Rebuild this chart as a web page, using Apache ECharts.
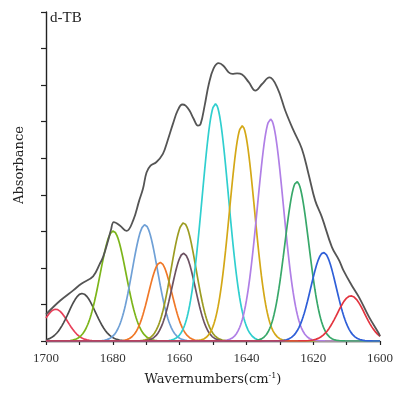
<!DOCTYPE html>
<html>
<head>
<meta charset="utf-8">
<script src="https://cdn.jsdelivr.net/npm/echarts@6/dist/echarts.min.js"></script>
<style>
  html, body { margin: 0; padding: 0; background: #fff; }
  #chart { width: 396px; height: 397px; }
</style>
</head>
<body>
<div id="chart"></div>
<script>
// Amide I band of d-TB: measured spectrum and fitted Gaussian components
const envWavenumber = [1700.0, 1695.8, 1691.85, 1689.3, 1685.9, 1683.9, 1682.9, 1681.4, 1680.6, 1679.7,
  1677.9, 1675.9, 1673.9, 1672.1, 1670.95, 1669.9, 1668.7, 1667.0, 1665.0, 1663.6,
  1662.0, 1660.6, 1659.2, 1658.2, 1657.0, 1655.8, 1654.5, 1653.7, 1652.5, 1651.25,
  1649.85, 1648.3, 1646.9, 1645.3, 1644.2, 1642.8, 1641.3, 1639.3, 1637.3, 1635.3,
  1633.1, 1630.8, 1628.35, 1625.9, 1623.4, 1621.4, 1619.4, 1617.4, 1614.4, 1612.2,
  1610.95, 1608.45, 1606.3, 1603.3, 1600.3, 1600.0];
const envAbsorbance = [0.73, 1.10, 1.385, 1.57, 1.77, 2.11, 2.30, 2.75, 3.02, 3.25,
  3.16, 3.01, 3.30, 3.84, 4.17, 4.61, 4.80, 4.89, 5.12, 5.48,
  5.94, 6.30, 6.47, 6.44, 6.30, 6.08, 5.89, 5.94, 6.44, 7.03,
  7.45, 7.60, 7.53, 7.35, 7.31, 7.32, 7.29, 7.08, 6.85, 7.03,
  7.21, 6.94, 6.30, 5.76, 5.26, 4.57, 3.84, 3.39, 2.57, 2.20,
  1.93, 1.52, 1.20, 0.66, 0.20, 0.13];

// fitted component peaks: centre (cm-1), height, standard deviation (cm-1)
const peakCentre = [1697.1, 1689.2, 1679.9, 1670.4, 1665.8, 1658.8, 1658.8, 1649.3, 1641.3, 1632.8, 1624.9, 1616.9, 1608.7];
const peakHeight = [0.87, 1.30, 3.01, 3.18, 2.15, 3.23, 2.40, 6.49, 5.89, 6.07, 4.36, 2.42, 1.235];
const peakSigma  = [3.6, 4.0, 3.9, 3.8, 3.5, 3.75, 3.5, 3.95, 3.75, 3.9, 3.6, 3.8, 4.1];
const peakColor  = ['#e8405a', '#4d4d4d', '#7cb51a', '#6fa0d6', '#f07828', '#9c9c22', '#6d5262',
  '#30cfcf', '#d4a817', '#b07fe6', '#38a86a', '#2f5fd8', '#e3343f'];

const xTicks = [1700, 1680, 1660, 1640, 1620, 1600];

const FONT = '"Liberation Serif", "DejaVu Serif", serif';
const TITLE_FONT = '"DejaVu Serif", "Liberation Serif", serif';

function componentCurve(i) {
  const pts = [];
  for (let k = 0; k <= 400; k++) {
    const x = 1600 + k * 0.25;
    const d = (x - peakCentre[i]) / peakSigma[i];
    pts.push([x, peakHeight[i] * Math.exp(-0.5 * d * d)]);
  }
  return pts;
}

const series = peakCentre.map((c, i) => ({
  type: 'line',
  data: componentCurve(i),
  showSymbol: false,
  smooth: false,
  lineStyle: { color: peakColor[i], width: 1.7 },
  emphasis: { disabled: true },
  z: 3
}));

series.push({
  type: 'line',
  data: envWavenumber.map((x, i) => [x, envAbsorbance[i]]),
  showSymbol: false,
  smooth: 0.4,
  lineStyle: { color: '#555555', width: 1.8 },
  emphasis: { disabled: true },
  z: 4
});

const chart = echarts.init(document.getElementById('chart'), null, { renderer: 'canvas' });
chart.setOption({
  animation: false,
  backgroundColor: '#ffffff',
  grid: { left: 46, right: 15, top: 12, bottom: 56 },
  xAxis: {
    type: 'value',
    inverse: true,
    min: 1600,
    max: 1700,
    interval: 10,
    axisLine: { onZero: false, lineStyle: { color: '#222', width: 1.4 } },
    axisTick: { length: 4, lineStyle: { color: '#222', width: 1.2 } },
    axisLabel: {
      margin: 11,
      fontFamily: FONT,
      fontSize: 13,
      color: '#333',
      formatter: v => (xTicks.indexOf(v) >= 0 ? String(v) : '')
    },
    splitLine: { show: false }
  },
  yAxis: {
    type: 'value',
    min: 0,
    max: 9,
    interval: 1,
    axisLine: { show: true, lineStyle: { color: '#222', width: 1.4 } },
    axisTick: { show: true, length: 5, lineStyle: { color: '#222', width: 1.2 } },
    axisLabel: { show: false },
    splitLine: { show: false }
  },
  graphic: [
    {
      type: 'text', left: 50, top: 11,
      style: { text: 'd-TB', font: '15px ' + FONT, fill: '#222' }
    },
    {
      type: 'text', x: 20, y: 165, rotation: Math.PI / 2,
      style: { text: 'Absorbance', font: '13px ' + TITLE_FONT, fill: '#222', align: 'center', verticalAlign: 'middle' }
    },
    {
      type: 'text', x: 213, y: 380,
      style: {
        text: 'Wavernumbers(cm{sup|-1})',
        font: '13px ' + TITLE_FONT, fill: '#222', align: 'center', verticalAlign: 'middle',
        rich: { sup: { fontSize: 8, fontFamily: TITLE_FONT, verticalAlign: 'top', padding: [0, 0, 8, 0], fill: '#222' } }
      }
    }
  ],
  series: series
});
</script>
</body>
</html>
